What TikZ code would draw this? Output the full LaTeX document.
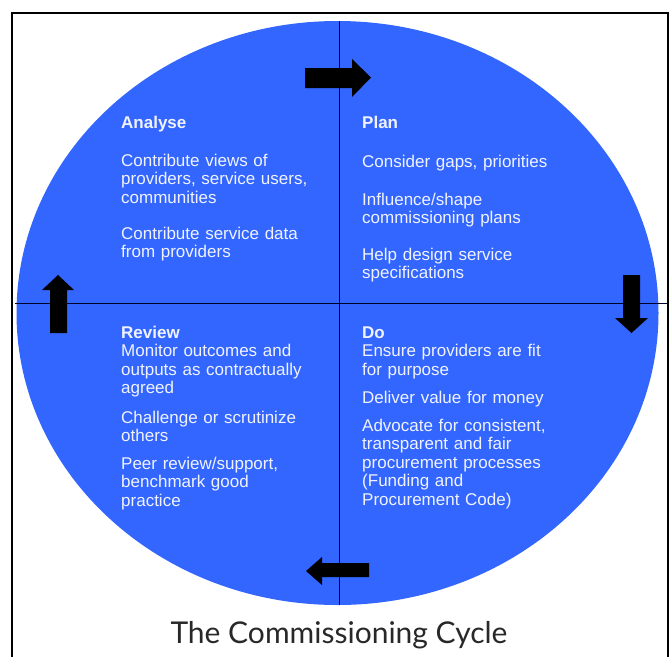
\documentclass[tikz,border=0pt]{standalone}
\usepackage{fontspec}
\setmainfont{Liberation Sans}
\newfontfamily\titlefont{Lato}
\definecolor{cycleblue}{RGB}{51,102,255}
\definecolor{stagetext}{RGB}{240,243,255}
\definecolor{titlegray}{RGB}{40,40,40}
\tikzset{
  stage/.style={anchor=base west, inner sep=0pt, text width=240pt, align=left,
    text=stagetext, font=\fontsize{17}{18.5}\selectfont},
  stagehead/.style={stage, font=\fontsize{17}{18.5}\selectfont\bfseries},
}
\begin{document}
\begin{tikzpicture}[x=1pt,y=-1pt]
	\useasboundingbox (0,0) rectangle (672,657);
	\draw[line width=2.5pt] (12,657) -- (12,13) -- (668,13) -- (668,657);
	\fill[cycleblue] (337.5,313) ellipse (321 and 292);
	\draw[line width=0.9pt, black!85!blue] (15,303) -- (667,303);
	\draw[line width=0.9pt, black!85!blue] (339,21) -- (339,605);
	% the four arrows of the cycle
	\fill (305,68) -- (352,68) -- (352,59) -- (371,77.5) -- (352,97) -- (352,88) -- (305,88) -- cycle;
	\fill (640,275) -- (640,318) -- (648,318) -- (631.5,333) -- (615,318) -- (623,318) -- (623,275) -- cycle;
	\fill (369,563) -- (322,563) -- (322,557) -- (306,571) -- (322,585) -- (322,577) -- (369,577) -- cycle;
	\fill (50,333) -- (50,290) -- (42,290) -- (58,275) -- (74,290) -- (67,290) -- (67,333) -- cycle;
	% analyse
	\node[stagehead] (analyse) at (121,128) {Analyse};
	\node[stage] (analyse-a) at (121,166) {Contribute views of\\providers, service users,\\communities};
	\node[stage] (analyse-b) at (121,239) {Contribute service data\\from providers};
	% plan
	\node[stagehead] (plan) at (362,128) {Plan};
	\node[stage] (plan-a) at (362,167) {Consider gaps, priorities};
	\node[stage] (plan-b) at (362,205) {Influence/shape\\commissioning plans};
	\node[stage] (plan-c) at (362,260) {Help design service\\specifications};
	% review
	\node[stagehead] (review) at (121,338) {Review};
	\node[stage] (review-a) at (121,356.5) {Monitor outcomes and\\outputs as contractually\\agreed};
	\node[stage] (review-b) at (121,423) {Challenge or scrutinize\\others};
	\node[stage] (review-c) at (121,469) {Peer review/support,\\benchmark good\\practice};
	% do
	\node[stagehead] (do) at (362,338) {Do};
	\node[stage] (do-a) at (362,356.5) {Ensure providers are fit\\for purpose};
	\node[stage] (do-b) at (362,403) {Deliver value for money};
	\node[stage] (do-c) at (362,431) {Advocate for consistent,\\transparent and fair\\procurement processes\\(Funding and\\Procurement Code)};
	\node[anchor=base, inner sep=0pt, text=titlegray, font=\titlefont\fontsize{30}{35}\selectfont] (title) at (339,643) {The Commissioning Cycle};
\end{tikzpicture}
\end{document}
